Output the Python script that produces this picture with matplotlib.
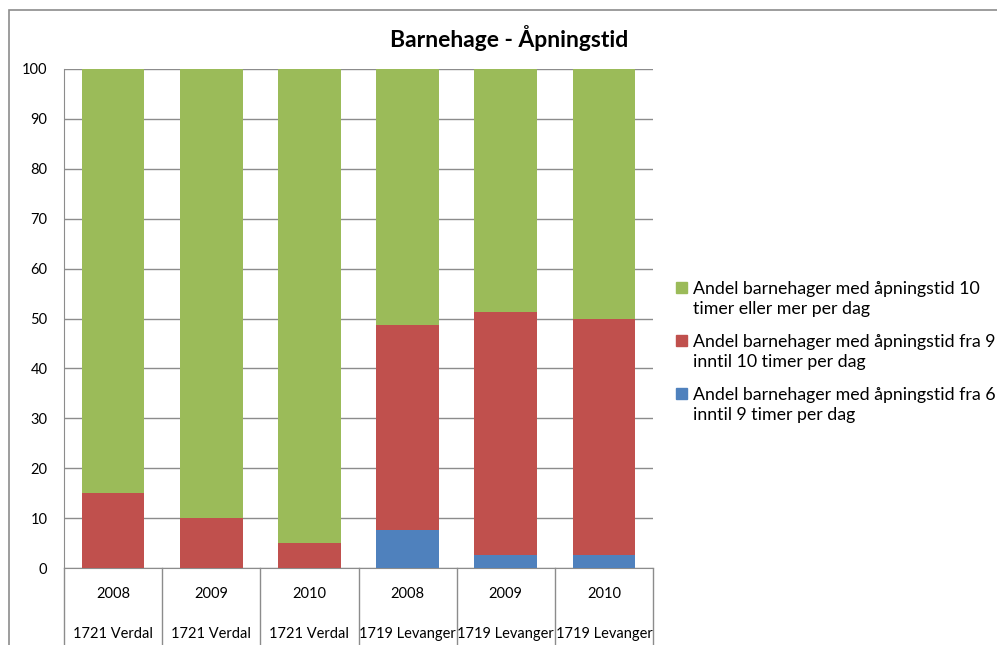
import numpy as np
import matplotlib
matplotlib.use("Agg")
import matplotlib.pyplot as plt
from matplotlib.patches import Rectangle
import matplotlib.transforms as mtransforms

plt.rcParams['font.family'] = ['Lato', 'DejaVu Sans']

years = ["2008", "2009", "2010", "2008", "2009", "2010"]
kommuner = ["1721 Verdal", "1721 Verdal", "1721 Verdal",
            "1719 Levanger", "1719 Levanger", "1719 Levanger"]
andel_6_9 = [0.0, 0.0, 0.0, 7.7, 2.6, 2.6]
andel_9_10 = [15.0, 10.0, 5.0, 41.0, 48.7, 47.4]
andel_10_plus = [85.0, 90.0, 95.0, 51.3, 48.7, 50.0]

labels = ["Andel barnehager med åpningstid fra 6\ninntil 9 timer per dag",
          "Andel barnehager med åpningstid fra 9\ninntil 10 timer per dag",
          "Andel barnehager med åpningstid 10\ntimer eller mer per dag"]
colors = ["#4F81BD", "#C0504D", "#9BBB59"]

W, H = 997, 645
fig = plt.figure(figsize=(W / 100, H / 100), dpi=100)

# outer chart border (runs off the right and bottom edges)
fig.patches.append(Rectangle((9 / W, -0.5), 2.0, 1.5 - 10 / H, transform=fig.transFigure,
                             fill=False, edgecolor="#8c8c8c", lw=1.2))

ax = fig.add_axes([64 / W, (H - 568) / H, (653 - 64) / W, (568 - 69) / H])

x = np.arange(len(years))
bottom = np.zeros(len(years))
bars = []
for vals, c, lab in zip([andel_6_9, andel_9_10, andel_10_plus], colors, labels):
    b = ax.bar(x, vals, 0.64, bottom=bottom, color=c, label=lab, zorder=3)
    bars.append(b)
    bottom += np.array(vals)

ax.set_xlim(-0.5, len(years) - 0.5)
ax.set_ylim(0, 100)
ax.set_yticks(range(0, 101, 10))
ax.tick_params(axis="y", length=0, pad=12, labelsize=10.5)
ax.set_xticks([])
ax.grid(axis="y", color="#8c8c8c", lw=1.0, zorder=0)
for s in ["top", "right"]:
    ax.spines[s].set_visible(False)
ax.spines["left"].set_color("#8c8c8c")
ax.spines["bottom"].set_color("#8c8c8c")

# two-level category axis
trans = mtransforms.blended_transform_factory(ax.transData, ax.transAxes)
for i in range(len(years)):
    ax.text(x[i], -26 / 499, years[i], transform=trans, ha="center", va="center", fontsize=10.5)
    ax.text(x[i], -66 / 499, kommuner[i], transform=trans, ha="center", va="center", fontsize=10.5)
for xb in np.arange(-0.5, len(years), 1.0):
    ax.plot([xb, xb], [0, -0.2], transform=trans, color="#8c8c8c", lw=1.0, clip_on=False)

fig.text(509 / W, 1 - 38 / H, "Barnehage - Åpningstid", ha="center", va="center",
         fontsize=16.5, fontweight="bold")

# legend, drawn top to bottom: green, red, blue
legend_y = [287, 340, 393]
for yl, c, lab in zip(legend_y, colors[::-1], labels[::-1]):
    fig.patches.append(Rectangle((676 / W, 1 - (yl + 6) / H), 11 / W, 11 / H,
                                 transform=fig.transFigure, color=c))
    fig.text(693 / W, 1 - (yl + 11.75) / H, lab, ha="left", va="center",
             fontsize=12.8, linespacing=1.32)

fig.savefig("out.png", dpi=100)
